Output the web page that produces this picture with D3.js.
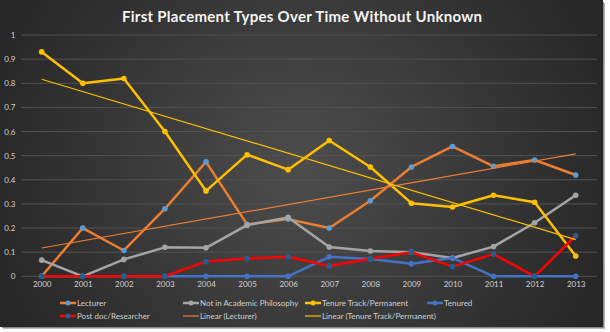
<!DOCTYPE html>
<html><head><meta charset="utf-8">
<script src="https://cdn.jsdelivr.net/npm/d3@7/dist/d3.min.js"></script>
<style>html,body{margin:0;padding:0;background:#fff;}svg{display:block;}</style>
</head><body>
<script>
const years = [2000,2001,2002,2003,2004,2005,2006,2007,2008,2009,2010,2011,2012,2013];
const lecturer = [0,0.2,0.107,0.28,0.474,0.215,0.237,0.2,0.313,0.453,0.538,0.456,0.482,0.42];
const notAcademic = [0.067,0,0.07,0.12,0.118,0.212,0.244,0.121,0.105,0.1,0.076,0.123,0.222,0.336];
const tenureTrack = [0.93,0.8,0.82,0.6,0.354,0.504,0.442,0.563,0.453,0.303,0.287,0.336,0.307,0.084];
const tenured = [0,0,0,0,0,0,0,0.081,0.072,0.052,0.076,0,0,0];
const postdoc = [0,0,0,0,0.061,0.074,0.081,0.043,0.073,0.1,0.04,0.092,0,0.168];
const yTicks = [0,0.1,0.2,0.3,0.4,0.5,0.6,0.7,0.8,0.9,1];
const yTickLabels = ["0","0.1","0.2","0.3","0.4","0.5","0.6","0.7","0.8","0.9","1"];
const title = "First Placement Types Over Time Without Unknown";

const W = 610, H = 332;
const svg = d3.select("body").append("svg").attr("width", W).attr("height", H);
const defs = svg.append("defs");
const rg = defs.append("radialGradient").attr("id","bg").attr("gradientUnits","userSpaceOnUse")
  .attr("cx",300).attr("cy",165).attr("r",330);
rg.append("stop").attr("offset","0%").attr("stop-color","#4d4d4d");
rg.append("stop").attr("offset","100%").attr("stop-color","#262626");

// shadow + background
svg.append("rect").attr("x",3).attr("y",3).attr("width",602).attr("height",326).attr("fill","#b8b8b8");
svg.append("rect").attr("x",2).attr("y",2).attr("width",602).attr("height",326).attr("fill","#8a8a8a");
svg.append("rect").attr("x",0).attr("y",0).attr("width",603).attr("height",327).attr("fill","url(#bg)");

const x = d3.scalePoint().domain(years).range([41.7, 575.7]);
const y = d3.scaleLinear().domain([0,1]).range([276.3, 35]);

// gridlines
svg.append("g").selectAll("line").data(yTicks).join("line")
  .attr("x1",21).attr("x2",597).attr("y1",d=>y(d)).attr("y2",d=>y(d))
  .attr("stroke","#535353").attr("stroke-width",1);

const labelFont = "Lato, sans-serif";
// y axis labels
const yAxis = d3.axisLeft(y).tickValues(yTicks).tickFormat((d,i)=>yTickLabels[i]).tickSize(0).tickPadding(0);
const yg = svg.append("g").attr("transform","translate(15.5,0)").call(yAxis);
yg.select(".domain").remove();
yg.selectAll("text").attr("fill","#d0d0d0").style("font-family",labelFont).style("font-size","8px");

// x axis labels
const xAxis = d3.axisBottom(x).tickSize(0).tickPadding(0).tickFormat(d=>String(d));
const xg = svg.append("g").attr("transform","translate(0,281)").call(xAxis);
xg.select(".domain").remove();
xg.selectAll("text").attr("fill","#d0d0d0").style("font-family",labelFont).style("font-size","8px");

// title
svg.append("text").attr("x",302).attr("y",22).attr("text-anchor","middle")
  .attr("fill","#f4f4f4").style("font-family","Lato, sans-serif").style("font-weight","bold")
  .style("font-size","15px").attr("textLength",360).attr("lengthAdjust","spacing").text(title);

const series = [
  {name:"Lecturer", values:lecturer, color:"#ed7d31", marker:"#5b9bd5"},
  {name:"Not in Academic Philosophy", values:notAcademic, color:"#a5a5a5", marker:"#a5a5a5"},
  {name:"Tenure Track/Permanent", values:tenureTrack, color:"#ffc000", marker:"#ffc000"},
  {name:"Tenured", values:tenured, color:"#4472c4", marker:"#4472c4"},
  {name:"Post doc/Researcher", values:postdoc, color:"#ff0000", marker:"#255e91"}
];

const line = d3.line().x((d,i)=>x(years[i])).y(d=>y(d));
series.forEach(s=>{
  svg.append("path").datum(s.values).attr("d",line).attr("fill","none")
    .attr("stroke",s.color).attr("stroke-width",2.5).attr("stroke-linejoin","round");
  svg.append("g").selectAll("circle").data(s.values).join("circle")
    .attr("cx",(d,i)=>x(years[i])).attr("cy",d=>y(d)).attr("r",2.8).attr("fill",s.marker);
});

// linear trendlines (least squares)
function linfit(vals){
  const n = vals.length, xs = d3.range(n);
  const mx = d3.mean(xs), my = d3.mean(vals);
  const sxy = d3.sum(xs, (xi,i)=>(xi-mx)*(vals[i]-my));
  const sxx = d3.sum(xs, xi=>(xi-mx)*(xi-mx));
  const b = sxy/sxx, a = my - b*mx;
  return [a, a + b*(n-1)];
}
const trends = [
  {name:"Linear (Lecturer)", values:lecturer, color:"#ed7d31"},
  {name:"Linear (Tenure Track/Permanent)", values:tenureTrack, color:"#ffc000"}
];
trends.forEach(t=>{
  const [v0,v1] = linfit(t.values);
  svg.append("line").attr("x1",x(years[0])).attr("y1",y(v0))
    .attr("x2",x(years[years.length-1])).attr("y2",y(v1))
    .attr("stroke",t.color).attr("stroke-width",1.2);
});

// legend
const legendItems = [
  {name:series[0].name, color:series[0].color, marker:series[0].marker, col:0, row:0},
  {name:series[1].name, color:series[1].color, marker:series[1].marker, col:1, row:0},
  {name:series[2].name, color:series[2].color, marker:series[2].marker, col:2, row:0},
  {name:series[3].name, color:series[3].color, marker:series[3].marker, col:3, row:0},
  {name:series[4].name, color:series[4].color, marker:series[4].marker, col:0, row:1},
  {name:trends[0].name, color:trends[0].color, marker:null, col:1, row:1},
  {name:trends[1].name, color:trends[1].color, marker:null, col:2, row:1}
];
const colX = [60, 183, 305, 427], rowY = [303, 316];
const lg = svg.append("g");
legendItems.forEach(it=>{
  const gx = colX[it.col], gy = rowY[it.row];
  lg.append("line").attr("x1",gx).attr("x2",gx+16).attr("y1",gy).attr("y2",gy)
    .attr("stroke",it.color).attr("stroke-width", it.marker ? 2.5 : 1.2);
  if(it.marker) lg.append("circle").attr("cx",gx+8).attr("cy",gy).attr("r",2.5).attr("fill",it.marker);
  lg.append("text").attr("x",gx+17).attr("y",gy).attr("dy","0.35em")
    .attr("fill","#d0d0d0").style("font-family",labelFont).style("font-size","8px").text(it.name);
});
</script>
</body></html>
